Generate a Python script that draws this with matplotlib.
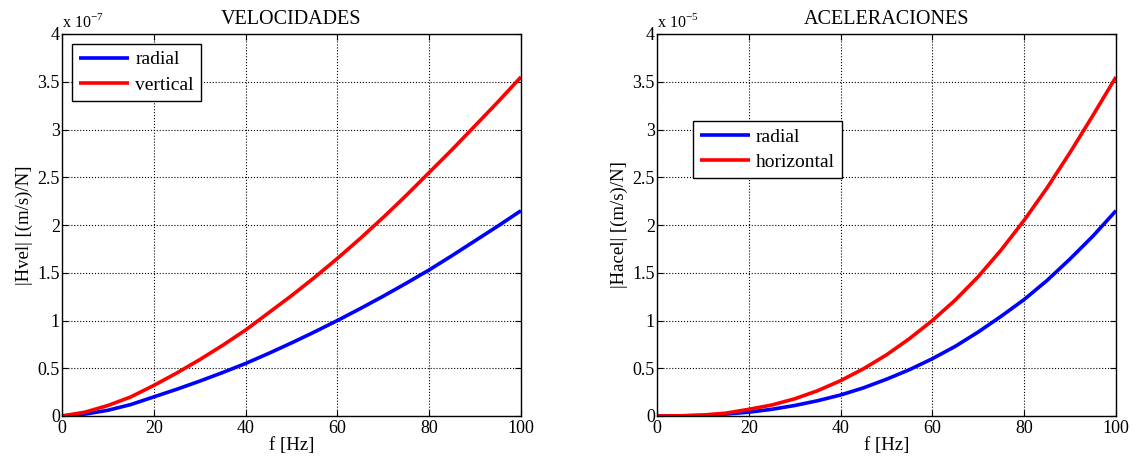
import matplotlib
matplotlib.use("Agg")
import matplotlib.pyplot as plt
from matplotlib.ticker import FixedLocator, FixedFormatter

plt.rcParams['font.family'] = ['Liberation Serif', 'DejaVu Serif']
plt.rcParams['mathtext.fontset'] = 'custom'
plt.rcParams['mathtext.rm'] = 'Liberation Serif'

freq = [0, 5, 10, 15, 20, 25, 30, 35, 40, 45, 50, 55, 60, 65, 70, 75, 80, 85, 90, 95, 100]

# velocities, units of 1e-7 (m/s)/N
vel_radial = [0, 0.02, 0.06, 0.12, 0.20, 0.28, 0.365, 0.455, 0.55, 0.655, 0.765, 0.88, 1.00,
              1.125, 1.255, 1.39, 1.53, 1.68, 1.835, 1.99, 2.15]
vel_vertical = [0, 0.04, 0.11, 0.20, 0.32, 0.45, 0.59, 0.74, 0.90, 1.08, 1.26, 1.45, 1.65,
                1.86, 2.08, 2.31, 2.55, 2.79, 3.04, 3.29, 3.55]

# accelerations, units of 1e-5
acc_radial = [0, 0.001, 0.006, 0.02, 0.04, 0.07, 0.11, 0.16, 0.22, 0.295, 0.385, 0.485, 0.60,
              0.73, 0.88, 1.045, 1.22, 1.42, 1.645, 1.885, 2.15]
acc_horizontal = [0, 0.002, 0.01, 0.03, 0.07, 0.115, 0.18, 0.265, 0.37, 0.495, 0.64, 0.81, 1.00,
                  1.215, 1.46, 1.74, 2.05, 2.39, 2.76, 3.15, 3.55]

xticks = [0, 20, 40, 60, 80, 100]
yticks = [0, 0.5, 1, 1.5, 2, 2.5, 3, 3.5, 4]
yticklabels = ['0', '0.5', '1', '1.5', '2', '2.5', '3', '3.5', '4']

fig = plt.figure(figsize=(11.47, 4.66), dpi=100)
ax1 = fig.add_axes([62/1147, 1-416/466, 459/1147, 382/466])
ax2 = fig.add_axes([657/1147, 1-416/466, 459/1147, 382/466])

TFS = 13
LFS = 13.5

def style(ax, title, ylabel, exp, series, labels, legpos):
    for ys, c, lab in zip(series, ['#0000ff', '#ff0000'], labels):
        ax.plot(freq, ys, color=c, lw=2.6, label=lab, solid_capstyle='butt')
    ax.set_xlim(0, 100)
    ax.set_ylim(0, 4)
    ax.xaxis.set_major_locator(FixedLocator(xticks))
    ax.yaxis.set_major_locator(FixedLocator(yticks))
    ax.yaxis.set_major_formatter(FixedFormatter(yticklabels))
    ax.tick_params(direction='in', top=True, right=True, labelsize=TFS, length=4, width=0.8)
    ax.tick_params(axis='y', pad=1.5)
    ax.tick_params(axis='x', pad=3)
    ax.grid(True, color='black', linestyle=':', linewidth=0.8)
    for s in ax.spines.values():
        s.set_linewidth(1.0)
    ax.set_title(title, fontsize=14.5, pad=7)
    ax.set_xlabel('f [Hz]', fontsize=LFS, labelpad=0)
    ax.set_ylabel(ylabel, fontsize=LFS, labelpad=3)
    ax.text(0.0, 1.008, r'x 10$^{%d}$' % exp, transform=ax.transAxes, fontsize=11.5,
            ha='left', va='bottom')
    leg = ax.legend(loc='upper left', bbox_to_anchor=legpos, fancybox=False, framealpha=1,
                    edgecolor='black', fontsize=14, handlelength=2.6, borderpad=0.35,
                    labelspacing=0.4, handletextpad=0.3, borderaxespad=0)
    leg.get_frame().set_linewidth(1.0)

style(ax1, 'VELOCIDADES', '|Hvel| [(m/s)/N]', -7, [vel_radial, vel_vertical],
      ['radial', 'vertical'], (0.022, 0.974))
style(ax2, 'ACELERACIONES', '|Hacel| [(m/s)/N]', -5, [acc_radial, acc_horizontal],
      ['radial', 'horizontal'], (0.078, 0.772))

fig.savefig('out.png', dpi=100)
